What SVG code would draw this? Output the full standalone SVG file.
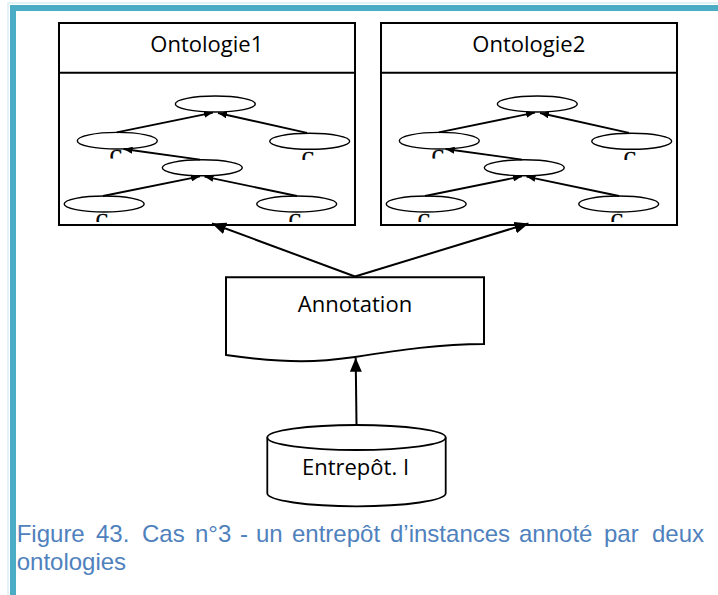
<svg xmlns="http://www.w3.org/2000/svg" width="718" height="595" viewBox="0 0 718 595">
<style>
.box{fill:#fff;stroke:#000;stroke-width:2}
.el{fill:#fff;stroke:#000;stroke-width:1.4}
.sa{stroke:#000;stroke-width:1.8;fill:none;marker-end:url(#sh)}
.la{stroke:#000;stroke-width:2;fill:none;marker-end:url(#ah)}
.lbl{font-family:"Open Sans","Liberation Sans",sans-serif;font-size:22px;fill:#000;text-anchor:middle}
.c{font-family:"Liberation Serif",serif;font-size:18px;fill:#000;text-anchor:middle;stroke:#000;stroke-width:0.6}
.cap{font-family:"Liberation Sans",Arial,sans-serif;font-size:24px;fill:#4F81BD}
</style>
<defs>
<marker id="ah" viewBox="0 0 14 12" refX="14" refY="6" markerWidth="14" markerHeight="12" orient="auto" markerUnits="userSpaceOnUse"><path d="M0,0 L14,6 L0,12 z" fill="#000"/></marker>
<marker id="sh" viewBox="0 0 9 7" refX="9" refY="3.5" markerWidth="9" markerHeight="7" orient="auto" markerUnits="userSpaceOnUse"><path d="M0,0 L9,3.5 L0,7 z" fill="#000"/></marker>
<clipPath id="cc" clipPathUnits="userSpaceOnUse"><rect x="-10" y="-14" width="20" height="9.5"/></clipPath>
</defs>
<rect width="718" height="595" fill="#fff"/>
<g id="frame">
<rect x="8" y="3" width="712" height="600" fill="none" stroke="#DAEEF3" stroke-width="1.5"/>
<rect x="10" y="5" width="708" height="6" fill="#4BACC6"/>
<rect x="10" y="5" width="6" height="590" fill="#4BACC6"/>
</g>
<g id="ontologie1">
<rect class="box" x="59" y="23" width="296" height="202"/>
<line x1="59" y1="72.7" x2="355" y2="72.7" stroke="#000" stroke-width="2"/>
<text class="lbl" x="206.8" y="52.3">Ontologie1</text>
<g>
<ellipse class="el" cx="215.3" cy="104" rx="40" ry="8"/>
<ellipse class="el" cx="117.3" cy="140.7" rx="40" ry="8.3"/>
<ellipse class="el" cx="309.7" cy="141.3" rx="40" ry="8"/>
<ellipse class="el" cx="202.3" cy="167.8" rx="40" ry="8"/>
<ellipse class="el" cx="104.2" cy="204" rx="40" ry="8"/>
<ellipse class="el" cx="296.7" cy="204" rx="40" ry="8"/>
<line class="sa" x1="116.7" y1="132.3" x2="213" y2="112.6"/>
<line class="sa" x1="307" y1="132.8" x2="218" y2="113"/>
<line class="sa" x1="103" y1="196" x2="200" y2="176.3"/>
<line class="sa" x1="297" y1="196" x2="204.5" y2="176.6"/>
<line class="sa" x1="200" y1="159.6" x2="123.5" y2="149"/>
<g transform="translate(116,163)"><g clip-path="url(#cc)"><text class="c" x="0" y="0">C</text></g></g>
<g transform="translate(308,164.5)"><g clip-path="url(#cc)"><text class="c" x="0" y="0">C</text></g></g>
<g transform="translate(102,226.5)"><g clip-path="url(#cc)"><text class="c" x="0" y="0">C</text></g></g>
<g transform="translate(295,226.5)"><g clip-path="url(#cc)"><text class="c" x="0" y="0">C</text></g></g>
</g>
</g>
<g id="ontologie2">
<rect class="box" x="381" y="23" width="296" height="202"/>
<line x1="381" y1="72.7" x2="677" y2="72.7" stroke="#000" stroke-width="2"/>
<text class="lbl" x="528.8" y="52.3">Ontologie2</text>
<g transform="translate(322,0)">
<ellipse class="el" cx="215.3" cy="104" rx="40" ry="8"/>
<ellipse class="el" cx="117.3" cy="140.7" rx="40" ry="8.3"/>
<ellipse class="el" cx="309.7" cy="141.3" rx="40" ry="8"/>
<ellipse class="el" cx="202.3" cy="167.8" rx="40" ry="8"/>
<ellipse class="el" cx="104.2" cy="204" rx="40" ry="8"/>
<ellipse class="el" cx="296.7" cy="204" rx="40" ry="8"/>
<line class="sa" x1="116.7" y1="132.3" x2="213" y2="112.6"/>
<line class="sa" x1="307" y1="132.8" x2="218" y2="113"/>
<line class="sa" x1="103" y1="196" x2="200" y2="176.3"/>
<line class="sa" x1="297" y1="196" x2="204.5" y2="176.6"/>
<line class="sa" x1="200" y1="159.6" x2="123.5" y2="149"/>
<g transform="translate(116,163)"><g clip-path="url(#cc)"><text class="c" x="0" y="0">C</text></g></g>
<g transform="translate(308,164.5)"><g clip-path="url(#cc)"><text class="c" x="0" y="0">C</text></g></g>
<g transform="translate(102,226.5)"><g clip-path="url(#cc)"><text class="c" x="0" y="0">C</text></g></g>
<g transform="translate(295,226.5)"><g clip-path="url(#cc)"><text class="c" x="0" y="0">C</text></g></g>
</g>
</g>
<g id="annotation">
<path class="box" d="M226,277.3 H484 V344 C440,344 400,350 355,357 C320,362 290,364 226,355 Z" stroke-width="1.8"/>
<text class="lbl" x="355" y="311.7">Annotation</text>
</g>
<g id="entrepot">
<path d="M267.3,437.5 V493.3 A89.2,13 0 0 0 445.7,493.3 V437.5" fill="#fff" stroke="#000" stroke-width="1.8"/>
<ellipse cx="356.5" cy="437.5" rx="89.2" ry="12.5" fill="#fff" stroke="#000" stroke-width="1.8"/>
<text class="lbl" x="355.5" y="475">Entrepôt. I</text>
</g>
<g id="connectors">
<line class="la" x1="355" y1="276.5" x2="212" y2="223.5"/>
<line class="la" x1="355" y1="276.5" x2="528.5" y2="223.5"/>
<line class="la" x1="356.5" y1="424.5" x2="355.7" y2="357.8"/>
</g>
<g id="caption">
<text class="cap" x="16.7" y="541.7">Figure</text>
<text class="cap" x="96" y="541.7">43.</text>
<text class="cap" x="142" y="541.7">Cas</text>
<text class="cap" x="195" y="541.7">n°3</text>
<text class="cap" x="240" y="541.7">-</text>
<text class="cap" x="256" y="541.7">un</text>
<text class="cap" x="292" y="541.7">entrepôt</text>
<text class="cap" x="390" y="541.7">d’instances</text>
<text class="cap" x="519" y="541.7">annoté</text>
<text class="cap" x="604" y="541.7">par</text>
<text class="cap" x="652" y="541.7">deux</text>
<text class="cap" x="16.7" y="570">ontologies</text>
</g>
</svg>
